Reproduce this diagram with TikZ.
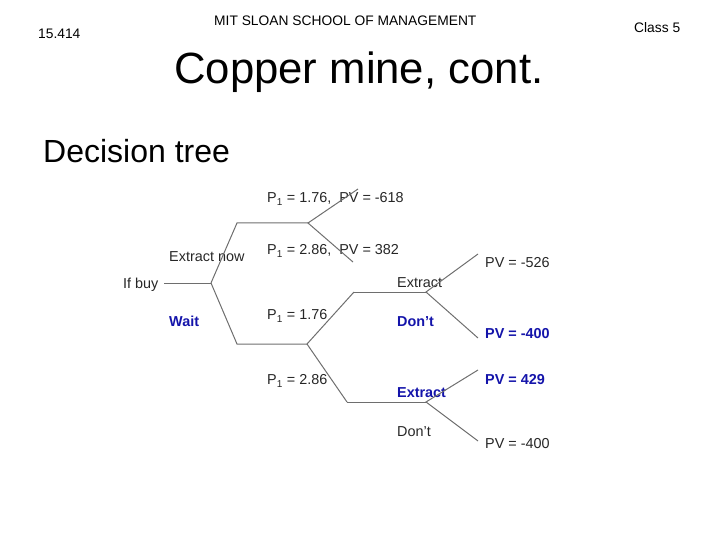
\documentclass[tikz,border=0pt]{standalone}
\usepackage{fontspec}
\setmainfont{Liberation Sans}
\usetikzlibrary{positioning}
\definecolor{treeblue}{RGB}{20,20,170}
\definecolor{treegray}{RGB}{110,110,110}
\tikzstyle{headtext}=[anchor=west, inner sep=0pt, font=\fontsize{13.8}{15}\selectfont]
\tikzstyle{treetext}=[anchor=west, inner sep=0pt, font=\fontsize{14.4}{15}\selectfont, text=black!85]
\tikzstyle{bluetext}=[anchor=west, inner sep=0pt, font=\bfseries\fontsize{14.4}{15}\selectfont, text=treeblue]
\tikzstyle{treeline}=[draw=treegray, line width=1pt]
\begin{document}
\begin{tikzpicture}[x=1pt,y=-1pt]
\useasboundingbox (0,0) rectangle (720,540);

\node[headtext] (course) at (38,34) {15.414};
\node[headtext] (school) at (214,21) {MIT SLOAN SCHOOL OF MANAGEMENT};
\node[headtext] (class) at (634,28) {Class 5};
\node[anchor=west, inner sep=0pt, font=\fontsize{43.7}{50}\selectfont] (title) at (174,72) {Copper mine, cont.};
\node[anchor=west, inner sep=0pt, font=\fontsize{32}{36}\selectfont] (sub) at (43,151) {Decision tree};

\node[treetext] (ifbuy) at (123,285) {If buy};
\node[treetext] (now) at (169,257) {Extract now};
\node[bluetext] (wait) at (169,321) {Wait};
\node[treetext] (low1) at (267,199) {P\textsubscript{1} = 1.76,\ \ PV = -618};
\node[treetext] (high1) at (267,251) {P\textsubscript{1} = 2.86,\ \ PV = 382};
\node[treetext] (low2) at (267,316) {P\textsubscript{1} = 1.76};
\node[treetext] (high2) at (267,381) {P\textsubscript{1} = 2.86};
\node[treetext] (ext1) at (397,283) {Extract};
\node[bluetext] (dont1) at (397,322) {Don't};
\node[bluetext] (ext2) at (397,393) {Extract};
\node[treetext] (dont2) at (397,432) {Don't};
\node[treetext] (pv1) at (485,263) {PV = -526};
\node[bluetext] (pv2) at (485,334) {PV = -400};
\node[bluetext] (pv3) at (485,380) {PV = 429};
\node[treetext] (pv4) at (485,444) {PV = -400};

\coordinate (start) at (164,283);
\coordinate (root) at (211,283);
\coordinate (a1) at (237,223);
\coordinate (a2) at (308,223);
\coordinate (e1) at (358,189);
\coordinate (e2) at (353,262);
\coordinate (b1) at (237,344);
\coordinate (b2) at (307,344);
\coordinate (c1) at (354,292);
\coordinate (c2) at (426,292);
\coordinate (d1) at (347,402);
\coordinate (d2) at (426,402);
\coordinate (f1) at (478,254);
\coordinate (f2) at (478,338);
\coordinate (f3) at (478,370);
\coordinate (f4) at (478,441);

\draw[treeline] (start) -- (root);
\draw[treeline] (root) -- (a1) -- (a2);
\draw[treeline] (root) -- (b1) -- (b2);
\draw[treeline] (e1) -- (a2) -- (e2);
\draw[treeline] (c1) -- (b2) -- (d1);
\draw[treeline] (c1) -- (c2);
\draw[treeline] (d1) -- (d2);
\draw[treeline] (f1) -- (c2) -- (f2);
\draw[treeline] (f3) -- (d2) -- (f4);

\end{tikzpicture}
\end{document}
